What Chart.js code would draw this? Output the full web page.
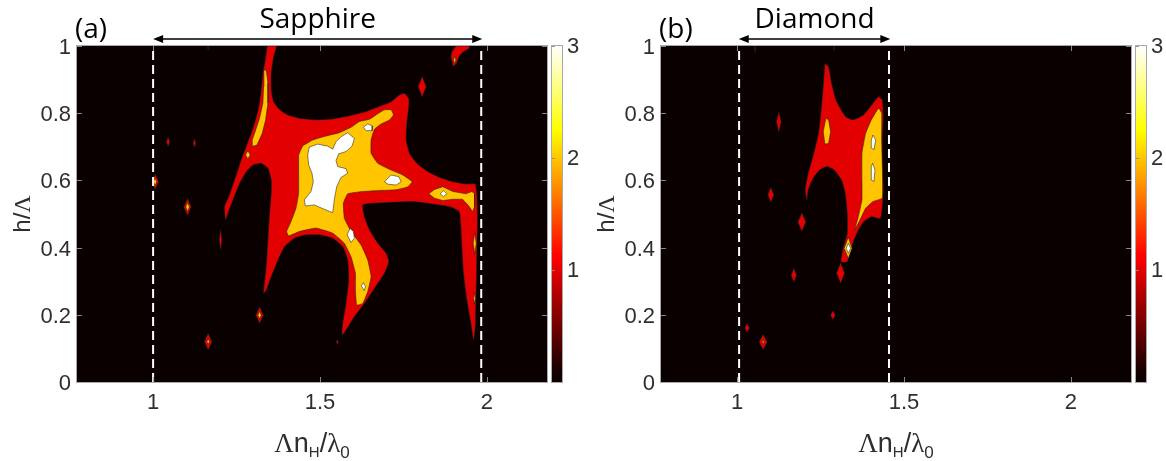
<!DOCTYPE html>
<html><head><meta charset="utf-8">
<script src="https://cdn.jsdelivr.net/npm/chart.js@4.4.0/dist/chart.umd.min.js"></script>
<style>
html,body{margin:0;padding:0;background:#fff;width:1166px;height:461px;overflow:hidden}
canvas{position:absolute;top:0}
#ca{left:0}
#cb{left:584px}
</style></head><body>
<canvas id="ca" width="582" height="461" style="width:582px;height:461px"></canvas>
<canvas id="cb" width="582" height="461" style="width:582px;height:461px"></canvas>
<script>
// ---------- axes / labels ----------
const xRange = [0.772, 2.18];
const yRange = [0, 1];
const xTicks = [1, 1.5, 2];
const xTickLabels = ['1', '1.5', '2'];
const yTicks = [0, 0.2, 0.4, 0.6, 0.8, 1];
const yTickLabels = ['0', '0.2', '0.4', '0.6', '0.8', '1'];
const cbTicks = [1, 2, 3];
const cbMax = 3;
const panelLabels = ['(a)', '(b)'];
const materials = ['Sapphire', 'Diamond'];
const aBand = [1.0, 1.983];
const bBand = [1.006, 1.455];
const aArrow = [1.0, 1.986];
const bArrow = [1.005, 1.459];

// ---------- panel (a) contour regions ----------
const aRedMain = [[1.342,1.0],[1.336,0.958],[1.329,0.919],[1.324,0.869],[1.317,0.820],[1.307,0.780],[1.294,0.740],[1.279,0.701],[1.264,0.661],[1.244,0.601],[1.227,0.552],[1.214,0.522],[1.217,0.482],[1.224,0.502],[1.239,0.542],[1.259,0.591],[1.279,0.626],[1.299,0.646],[1.324,0.651],[1.344,0.636],[1.354,0.601],[1.354,0.562],[1.349,0.502],[1.344,0.423],[1.339,0.343],[1.331,0.264],[1.339,0.274],[1.354,0.314],[1.374,0.363],[1.394,0.403],[1.423,0.428],[1.458,0.438],[1.498,0.438],[1.538,0.428],[1.568,0.403],[1.583,0.363],[1.586,0.304],[1.578,0.234],[1.568,0.175],[1.566,0.140],[1.578,0.155],[1.603,0.195],[1.633,0.234],[1.663,0.279],[1.693,0.324],[1.706,0.358],[1.698,0.383],[1.673,0.413],[1.648,0.453],[1.633,0.492],[1.628,0.527],[1.658,0.532],[1.718,0.535],[1.778,0.537],[1.838,0.530],[1.888,0.522],[1.917,0.507],[1.922,0.462],[1.925,0.403],[1.930,0.323],[1.940,0.244],[1.952,0.175],[1.960,0.125],[1.965,0.165],[1.967,0.244],[1.969,0.323],[1.970,0.403],[1.972,0.482],[1.970,0.552],[1.965,0.589],[1.937,0.589],[1.898,0.596],[1.858,0.609],[1.818,0.629],[1.788,0.653],[1.768,0.681],[1.758,0.720],[1.760,0.770],[1.766,0.820],[1.766,0.844],[1.753,0.859],[1.738,0.854],[1.713,0.834],[1.678,0.820],[1.638,0.805],[1.588,0.792],[1.538,0.783],[1.488,0.780],[1.438,0.785],[1.403,0.795],[1.379,0.810],[1.361,0.834],[1.354,0.869],[1.354,0.919],[1.361,0.968],[1.369,1.0]];
const aRedSpots = [
  [[1.892,0.968],[1.899,0.939],[1.909,0.949],[1.917,0.970],[1.929,0.983],[1.947,0.993],[1.947,1.0],[1.907,1.0],[1.895,0.983]],
  [[0.996,0.596],[1.006,0.618],[1.017,0.596],[1.006,0.574]],
  [[1.092,0.521],[1.103,0.546],[1.114,0.521],[1.103,0.496]],
  [[1.040,0.715],[1.045,0.729],[1.050,0.715],[1.045,0.701]],
  [[1.120,0.711],[1.124,0.723],[1.128,0.711],[1.124,0.699]],
  [[1.198,0.423],[1.202,0.453],[1.206,0.423],[1.202,0.393]],
  [[1.308,0.199],[1.319,0.223],[1.330,0.199],[1.319,0.175]],
  [[1.154,0.120],[1.165,0.144],[1.176,0.120],[1.165,0.096]],
  [[1.794,0.879],[1.806,0.909],[1.818,0.879],[1.806,0.849]],
  [[1.549,0.119],[1.552,0.126],[1.555,0.119],[1.552,0.112]],
  [[1.163,0.994],[1.165,1.0],[1.167,0.994],[1.165,0.988]]
];
const aYellowMain = [[1.436,0.676],[1.448,0.702],[1.478,0.720],[1.518,0.732],[1.558,0.742],[1.593,0.758],[1.618,0.775],[1.648,0.782],[1.668,0.795],[1.693,0.810],[1.713,0.810],[1.720,0.795],[1.708,0.780],[1.683,0.768],[1.663,0.752],[1.653,0.720],[1.653,0.681],[1.673,0.651],[1.708,0.633],[1.748,0.616],[1.776,0.596],[1.763,0.581],[1.728,0.572],[1.678,0.570],[1.628,0.567],[1.583,0.560],[1.570,0.532],[1.573,0.487],[1.593,0.448],[1.623,0.408],[1.643,0.363],[1.653,0.314],[1.643,0.269],[1.628,0.234],[1.610,0.229],[1.606,0.274],[1.606,0.324],[1.593,0.373],[1.573,0.413],[1.538,0.443],[1.488,0.458],[1.438,0.448],[1.406,0.435],[1.400,0.448],[1.413,0.477],[1.428,0.517],[1.436,0.562],[1.436,0.621]];
const aYellowSpots = [
  [[1.332,0.929],[1.339,0.927],[1.344,0.889],[1.344,0.830],[1.337,0.780],[1.327,0.740],[1.311,0.705],[1.299,0.702],[1.297,0.720],[1.309,0.755],[1.319,0.785],[1.329,0.830],[1.331,0.879]],
  [[1.277,0.676],[1.284,0.688],[1.291,0.676],[1.284,0.664]],
  [[1.826,0.560],[1.843,0.573],[1.868,0.581],[1.898,0.567],[1.937,0.560],[1.955,0.567],[1.963,0.560],[1.963,0.522],[1.957,0.507],[1.947,0.522],[1.927,0.544],[1.898,0.544],[1.868,0.540],[1.843,0.547]],
  [[1.959,0.413],[1.963,0.443],[1.968,0.413],[1.964,0.381]],
  [[1.960,0.249],[1.962,0.266],[1.965,0.249],[1.963,0.232]],
  [[1.900,0.958],[1.903,0.970],[1.907,0.958],[1.904,0.947]],
  [[1.001,0.596],[1.006,0.607],[1.011,0.596],[1.006,0.585]],
  [[1.098,0.521],[1.103,0.534],[1.109,0.521],[1.103,0.508]],
  [[1.314,0.199],[1.319,0.210],[1.324,0.199],[1.319,0.188]],
  [[1.161,0.120],[1.165,0.128],[1.169,0.120],[1.165,0.112]]
];
const aWhiteMain = [[1.468,0.699],[1.493,0.708],[1.523,0.702],[1.538,0.693],[1.548,0.715],[1.563,0.730],[1.583,0.742],[1.603,0.725],[1.596,0.702],[1.578,0.686],[1.556,0.679],[1.548,0.659],[1.553,0.641],[1.578,0.635],[1.583,0.621],[1.563,0.609],[1.550,0.581],[1.543,0.544],[1.538,0.504],[1.513,0.514],[1.483,0.527],[1.456,0.524],[1.453,0.542],[1.473,0.567],[1.480,0.596],[1.476,0.621],[1.466,0.646],[1.463,0.676]];
const aWhiteSpots = [
  [[1.630,0.758],[1.643,0.768],[1.658,0.762],[1.656,0.748],[1.638,0.748]],
  [[1.693,0.596],[1.713,0.616],[1.736,0.611],[1.743,0.596],[1.728,0.586],[1.703,0.589]],
  [[1.581,0.438],[1.590,0.457],[1.600,0.448],[1.603,0.428],[1.593,0.415]],
  [[1.624,0.286],[1.630,0.296],[1.636,0.284],[1.632,0.272]],
  [[1.860,0.560],[1.870,0.570],[1.880,0.560],[1.870,0.552]]
];

// ---------- panel (b) contour regions ----------
const bRedMain = [[1.263,0.948],[1.274,0.938],[1.283,0.889],[1.296,0.839],[1.324,0.790],[1.346,0.780],[1.379,0.795],[1.407,0.829],[1.424,0.849],[1.435,0.839],[1.438,0.790],[1.435,0.720],[1.435,0.641],[1.438,0.572],[1.435,0.522],[1.429,0.487],[1.402,0.492],[1.379,0.477],[1.363,0.452],[1.348,0.418],[1.337,0.383],[1.330,0.358],[1.311,0.358],[1.318,0.398],[1.330,0.442],[1.330,0.502],[1.324,0.562],[1.313,0.601],[1.291,0.631],[1.269,0.641],[1.247,0.631],[1.227,0.606],[1.213,0.572],[1.209,0.542],[1.204,0.572],[1.213,0.621],[1.230,0.681],[1.244,0.740],[1.252,0.810],[1.258,0.879]];
const bRedSpots = [
  [[1.118,0.774],[1.125,0.804],[1.132,0.774],[1.125,0.744]],
  [[1.092,0.557],[1.101,0.579],[1.110,0.557],[1.101,0.535]],
  [[1.182,0.476],[1.194,0.503],[1.206,0.476],[1.194,0.449]],
  [[1.162,0.318],[1.170,0.338],[1.178,0.318],[1.170,0.298]],
  [[1.298,0.324],[1.310,0.354],[1.322,0.324],[1.310,0.294]],
  [[1.280,0.199],[1.287,0.212],[1.294,0.199],[1.287,0.186]],
  [[1.023,0.161],[1.030,0.174],[1.037,0.161],[1.030,0.148]],
  [[1.066,0.119],[1.078,0.141],[1.090,0.119],[1.078,0.097]],
  [[1.002,0.676],[1.006,0.686],[1.010,0.676],[1.006,0.666]],
  [[1.052,0.990],[1.054,1.0],[1.056,0.990],[1.054,0.980]],
  [[1.289,0.993],[1.290,1.0],[1.291,0.993],[1.290,0.986]]
];
const bYellowMain = [[1.352,0.452],[1.363,0.492],[1.374,0.542],[1.374,0.601],[1.374,0.681],[1.385,0.740],[1.402,0.780],[1.424,0.815],[1.433,0.800],[1.433,0.720],[1.435,0.641],[1.435,0.547],[1.407,0.537],[1.385,0.517],[1.368,0.482]];
const bYellowSpots = [
  [[1.258,0.745],[1.266,0.785],[1.274,0.780],[1.280,0.745],[1.274,0.710],[1.263,0.708]],
  [[1.321,0.398],[1.333,0.431],[1.344,0.398],[1.333,0.368]],
  [[1.075,0.119],[1.078,0.126],[1.081,0.119],[1.078,0.112]]
];
const bWhiteSpots = [
  [[1.402,0.720],[1.407,0.735],[1.415,0.720],[1.410,0.691],[1.404,0.696]],
  [[1.402,0.641],[1.406,0.651],[1.413,0.631],[1.410,0.596],[1.404,0.601]],
  [[1.327,0.398],[1.333,0.413],[1.340,0.398],[1.333,0.383]]
];

// ---------- styling ----------
const BG = '#0b0000';
const RED = '#e30000';
const YELLOW = '#ffc600';
const WHITE = '#ffffff';
const EDGE = 'rgba(30,30,30,0.9)';
const SANS = '"Liberation Sans", Arial, sans-serif';
const SERIF = '"Liberation Serif", "Times New Roman", serif';
const LABELF = '"Open Sans", "Noto Sans", sans-serif';
const TXT = '#2e2e2e';

function poly(pts, color, order, tension) {
  const d = pts.map(p => ({x: p[0], y: p[1]}));
  d.push({x: pts[0][0], y: pts[0][1]});
  return {data: d, showLine: true, fill: 'shape', backgroundColor: color,
    borderColor: EDGE, borderWidth: 0.6, pointRadius: 0, pointHoverRadius: 0,
    tension: tension || 0, order: order};
}
function vline(x) {
  return {data: [{x: x, y: yRange[0]}, {x: x, y: yRange[1]}], showLine: true, fill: false,
    borderColor: '#ffffff', borderWidth: 2, borderDash: [9, 5], pointRadius: 0, order: 0};
}
function drawPieces(ctx, pieces, cx, baseY) {
  let total = 0;
  pieces.forEach(p => { ctx.font = p.f; total += ctx.measureText(p.t).width; });
  let x = cx - total / 2;
  ctx.textAlign = 'left';
  ctx.textBaseline = 'alphabetic';
  pieces.forEach(p => { ctx.font = p.f; ctx.fillText(p.t, x, baseY + (p.dy || 0)); x += ctx.measureText(p.t).width; });
}
function hot(v) {
  const r = Math.min(1, v / 0.375), g = Math.max(0, Math.min(1, (v - 0.375) / 0.375)), b = Math.max(0, Math.min(1, (v - 0.75) / 0.25));
  return 'rgb(' + Math.round(Math.max(r, 0.042) * 255) + ',' + Math.round(g * 255) + ',' + Math.round(b * 255) + ')';
}

function panelPlugin(label, material, arrow) {
  return {
    id: 'panelDeco',
    beforeDraw(chart) {
      const {ctx, chartArea: a} = chart;
      ctx.save(); ctx.fillStyle = BG; ctx.fillRect(a.left, a.top, a.right - a.left, a.bottom - a.top); ctx.restore();
    },
    afterDatasetsDraw(chart) {
      const {ctx, chartArea: a, scales} = chart;
      const xs = scales.x, ys = scales.y;
      ctx.save();
      ctx.strokeStyle = 'rgba(150,150,150,0.9)'; ctx.lineWidth = 1;
      ctx.beginPath();
      xTicks.forEach(v => { const p = Math.round(xs.getPixelForValue(v)) + 0.5;
        ctx.moveTo(p, a.bottom); ctx.lineTo(p, a.bottom - 5); ctx.moveTo(p, a.top); ctx.lineTo(p, a.top + 5); });
      yTicks.forEach(v => { const p = Math.round(ys.getPixelForValue(v)) + 0.5;
        ctx.moveTo(a.left, p); ctx.lineTo(a.left + 5, p); ctx.moveTo(a.right, p); ctx.lineTo(a.right - 5, p); });
      ctx.stroke();
      ctx.strokeStyle = '#a8a8a8';
      ctx.strokeRect(a.left - 0.5, a.top - 0.5, a.right - a.left + 1, a.bottom - a.top + 1);
      ctx.restore();
    },
    afterDraw(chart) {
      const {ctx, chartArea: a, scales} = chart;
      const xs = scales.x, ys = scales.y;
      ctx.save();
      // colorbar
      const cx0 = a.right + 5, cw = 10;
      const ctop = ys.getPixelForValue(1), cbot = ys.getPixelForValue(0);
      const g = ctx.createLinearGradient(0, cbot, 0, ctop);
      for (let i = 0; i <= 32; i++) g.addColorStop(i / 32, hot(i / 32));
      ctx.fillStyle = g; ctx.fillRect(cx0, ctop, cw, cbot - ctop);
      ctx.strokeStyle = '#a8a8a8'; ctx.lineWidth = 1;
      ctx.strokeRect(cx0 - 0.5, ctop - 0.5, cw + 1, cbot - ctop + 1);
      ctx.fillStyle = TXT; ctx.font = '22px ' + SANS; ctx.textAlign = 'left'; ctx.textBaseline = 'middle';
      cbTicks.forEach(v => {
        const py = ys.getPixelForValue(v / cbMax);
        ctx.fillText(String(v), cx0 + cw + 5, py + 1);
        ctx.beginPath(); ctx.strokeStyle = 'rgba(140,140,140,0.9)';
        ctx.moveTo(cx0, Math.round(py) + 0.5); ctx.lineTo(cx0 + 3, Math.round(py) + 0.5); ctx.stroke();
      });
      // axis titles
      ctx.fillStyle = TXT;
      drawPieces(ctx, [
        {t: '\u039B', f: '27px ' + SERIF}, {t: 'n', f: '27px ' + SANS}, {t: 'H', f: '15px ' + SANS, dy: 5},
        {t: '/', f: '27px ' + SANS}, {t: '\u03BB', f: '27px ' + SERIF}, {t: '0', f: '17px ' + SANS, dy: 6}
      ], (a.left + a.right) / 2, 452);
      ctx.save();
      ctx.translate(22, (a.top + a.bottom) / 2); ctx.rotate(-Math.PI / 2);
      drawPieces(ctx, [{t: 'h/', f: '24px ' + SANS}, {t: '\u039B', f: '24px ' + SERIF}], 0, 8);
      ctx.restore();
      // panel label
      ctx.fillStyle = '#000'; ctx.font = '28px ' + LABELF; ctx.textAlign = 'left'; ctx.textBaseline = 'alphabetic';
      ctx.fillText(label, a.left - 2, 38);
      // arrow
      const x1 = xs.getPixelForValue(arrow[0]), x2 = xs.getPixelForValue(arrow[1]), y = 39;
      ctx.strokeStyle = '#000'; ctx.lineWidth = 1.6;
      ctx.beginPath(); ctx.moveTo(x1 + 6, y); ctx.lineTo(x2 - 6, y); ctx.stroke();
      ctx.fillStyle = '#000';
      ctx.beginPath(); ctx.moveTo(x1, y); ctx.lineTo(x1 + 10, y - 4); ctx.lineTo(x1 + 10, y + 4); ctx.closePath(); ctx.fill();
      ctx.beginPath(); ctx.moveTo(x2, y); ctx.lineTo(x2 - 10, y - 4); ctx.lineTo(x2 - 10, y + 4); ctx.closePath(); ctx.fill();
      ctx.font = '28px ' + LABELF; ctx.textAlign = 'center';
      ctx.fillText(material, (x1 + x2) / 2, 28);
      ctx.restore();
    }
  };
}

function makeChart(id, datasets, label, material, arrow) {
  return new Chart(document.getElementById(id), {
    type: 'scatter',
    data: {datasets: datasets},
    options: {
      responsive: false, animation: false, events: [],
      layout: {padding: {left: 0, right: 35, top: 46, bottom: 0}},
      plugins: {legend: {display: false}, tooltip: {enabled: false}},
      scales: {
        x: {type: 'linear', min: xRange[0], max: xRange[1],
          afterBuildTicks: s => { s.ticks = xTicks.map(v => ({value: v})); },
          afterFit: s => { s.height = 79; },
          grid: {display: false, drawTicks: false}, border: {display: false},
          ticks: {font: {family: SANS, size: 22}, color: TXT, padding: 8, callback: (v, i) => xTickLabels[i]}},
        y: {type: 'linear', min: yRange[0], max: yRange[1],
          afterBuildTicks: s => { s.ticks = yTicks.map(v => ({value: v})); },
          afterFit: s => { s.width = 77; },
          grid: {display: false, drawTicks: false}, border: {display: false},
          ticks: {font: {family: SANS, size: 22}, color: TXT, padding: 6, labelOffset: 2, callback: (v, i) => yTickLabels[i]}}
      }
    },
    plugins: [panelPlugin(label, material, arrow)]
  });
}

const aSets = [];
aSets.push(poly(aRedMain, RED, 5, 0.15));
aRedSpots.forEach(p => aSets.push(poly(p, RED, 5, 0)));
aSets.push(poly(aYellowMain, YELLOW, 4, 0.1));
aYellowSpots.forEach(p => aSets.push(poly(p, YELLOW, 4, 0)));
aSets.push(poly(aWhiteMain, WHITE, 3, 0));
aWhiteSpots.forEach(p => aSets.push(poly(p, WHITE, 3, 0)));
aBand.forEach(x => aSets.push(vline(x)));

const bSets = [];
bSets.push(poly(bRedMain, RED, 5, 0.15));
bRedSpots.forEach(p => bSets.push(poly(p, RED, 5, 0)));
bSets.push(poly(bYellowMain, YELLOW, 4, 0.1));
bYellowSpots.forEach(p => bSets.push(poly(p, YELLOW, 4, 0)));
bWhiteSpots.forEach(p => bSets.push(poly(p, WHITE, 3, 0)));
bBand.forEach(x => bSets.push(vline(x)));

makeChart('ca', aSets, panelLabels[0], materials[0], aArrow);
makeChart('cb', bSets, panelLabels[1], materials[1], bArrow);
</script>
</body></html>
